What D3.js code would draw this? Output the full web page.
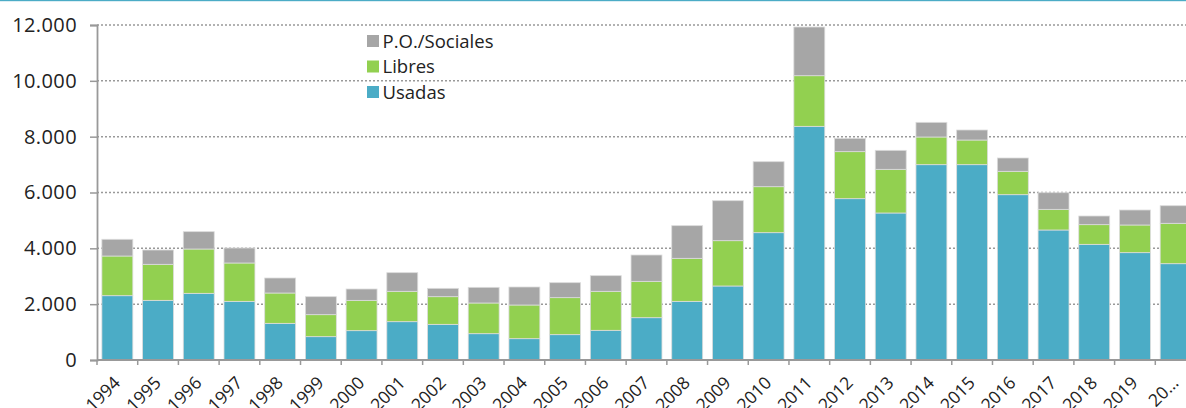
<!DOCTYPE html>
<html>
<head>
<meta charset="utf-8">
<script src="https://cdn.jsdelivr.net/npm/d3@7"></script>
<style>
  html, body { margin: 0; padding: 0; background: #fff; overflow: hidden; }
  svg { display: block; font-family: "Open Sans", "Noto Sans", sans-serif; }
</style>
</head>
<body>
<svg id="chart" width="1186" height="408"></svg>
<script>
// Years and their axis labels (the last one is shortened at the edge)
const years = ["1994","1995","1996","1997","1998","1999","2000","2001","2002","2003","2004","2005","2006","2007","2008","2009","2010","2011","2012","2013","2014","2015","2016","2017","2018","2019","2020"];
const yearLabels = ["1994","1995","1996","1997","1998","1999","2000","2001","2002","2003","2004","2005","2006","2007","2008","2009","2010","2011","2012","2013","2014","2015","2016","2017","2018","2019","20\u2026"];

// Series values per year
const usadas   = [2304,2137,2388,2101,1313,836,1051,1373,1277,943,764,908,1063,1516,2101,2651,4561,8370,5779,5266,6997,6997,5922,4657,4143,3845,3450];
const libres   = [1421,1290,1588,1374,1087,788,1086,1087,991,1099,1206,1325,1397,1302,1541,1623,1647,1814,1684,1564,991,883,837,740,705,991,1446];
const sociales = [599,513,621,537,537,644,406,668,299,561,645,537,561,943,1170,1433,896,1744,477,680,525,359,477,596,310,537,631];

const seriesNames = ["Usadas", "Libres", "P.O./Sociales"];
const yTicks = [0, 2000, 4000, 6000, 8000, 10000, 12000];

const colors = { "Usadas": "#4bacc6", "Libres": "#92d050", "P.O./Sociales": "#a6a6a6" };

const rows = years.map((y, i) => ({
  year: y,
  "Usadas": usadas[i],
  "Libres": libres[i],
  "P.O./Sociales": sociales[i]
}));

const svg = d3.select("#chart");
const W = 1186;

const x = d3.scaleBand().domain(years).range([97, 1196]).paddingInner(0.24).paddingOuter(0.12);
const y = d3.scaleLinear().domain([0, 12000]).range([360, 25]);
const fmt = v => d3.format(",")(v).replace(/,/g, ".");

// thin rule across the top
svg.append("rect").attr("x", 0).attr("y", 0).attr("width", W).attr("height", 1.2).attr("fill", "#4bacc6");

// dotted gridlines
svg.append("g").selectAll("line")
  .data(yTicks.filter(d => d > 0))
  .join("line")
  .attr("x1", 97).attr("x2", W)
  .attr("y1", d => y(d)).attr("y2", d => y(d))
  .attr("stroke", "#999").attr("stroke-width", 1.5)
  .attr("stroke-dasharray", "2,2");

// stacked bars
const stack = d3.stack().keys(seriesNames)(rows);
svg.append("g").selectAll("g")
  .data(stack)
  .join("g")
  .attr("fill", d => colors[d.key])
  .selectAll("rect")
  .data(d => d)
  .join("rect")
  .attr("x", d => x(d.data.year))
  .attr("width", x.bandwidth())
  .attr("y", d => y(d[1]))
  .attr("height", d => y(d[0]) - y(d[1]))
  .attr("stroke", "#dcdcdc")
  .attr("stroke-width", 0.8);

// y axis
const yAxis = d3.axisLeft(y).tickValues(yTicks).tickFormat(fmt).tickSize(7).tickPadding(13);
const gy = svg.append("g").attr("transform", "translate(97,0)").call(yAxis);
gy.select(".domain").attr("stroke", "#999").attr("stroke-width", 1.8);
gy.selectAll(".tick line").attr("stroke", "#999").attr("stroke-width", 1.5);
gy.selectAll(".tick text").attr("fill", "#222")
  .style("font-size", "20px").style("letter-spacing", "0.4px")
  .style("font-family", "'Open Sans', sans-serif");

// x axis: baseline with ticks at the category boundaries
const step = x.step();
const bounds = d3.range(years.length + 1).map(k => x.range()[0] + k * step);
svg.append("line").attr("x1", 97).attr("x2", W).attr("y1", 360).attr("y2", 360)
  .attr("stroke", "#999").attr("stroke-width", 1.8);
svg.append("g").selectAll("line").data(bounds).join("line")
  .attr("x1", d => d).attr("x2", d => d).attr("y1", 360).attr("y2", 365)
  .attr("stroke", "#999").attr("stroke-width", 1.5);

svg.append("g").selectAll("text").data(years).join("text")
  .attr("transform", d => `translate(${x(d) + x.bandwidth() / 2 + 4},384) rotate(-45)`)
  .attr("text-anchor", "end")
  .attr("fill", "#222")
  .style("font-size", "17.5px")
  .text((d, i) => yearLabels[i]);

// legend
const legendOrder = ["P.O./Sociales", "Libres", "Usadas"];
const lg = svg.append("g").attr("transform", "translate(367,35)");
const item = lg.selectAll("g").data(legendOrder).join("g")
  .attr("transform", (d, i) => `translate(0,${i * 25.5})`);
item.append("rect").attr("width", 12).attr("height", 12).attr("fill", d => colors[d]);
item.append("text").attr("x", 15.5).attr("y", 12.5).attr("fill", "#222")
  .style("font-size", "18.5px").text(d => d);
</script>
</body>
</html>
